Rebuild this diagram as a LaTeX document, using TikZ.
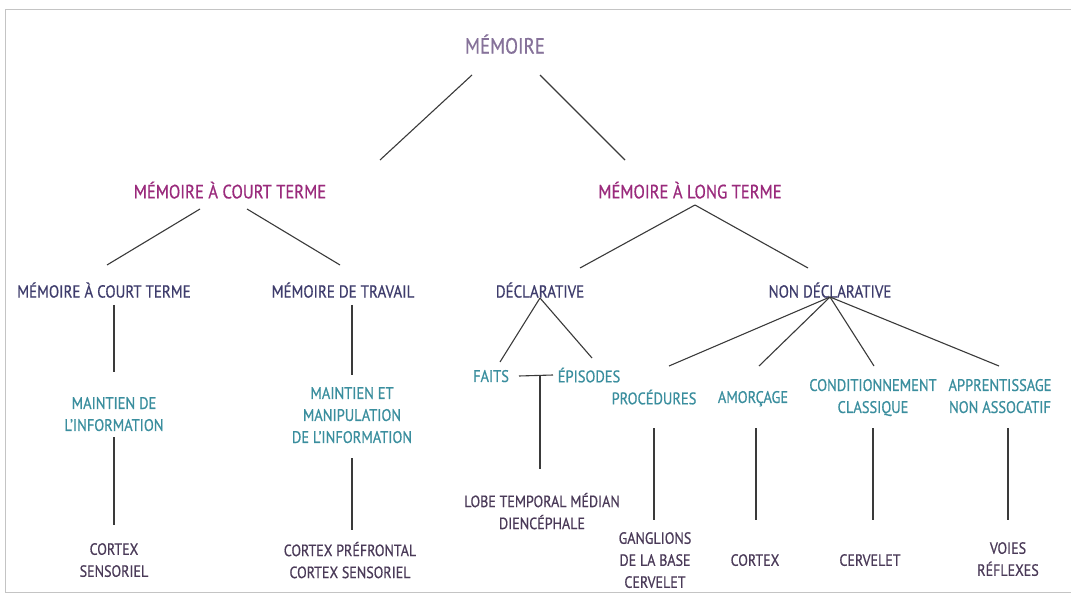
\documentclass[tikz,border=0pt]{standalone}
\usepackage{fontspec}
\setmainfont{PT Sans}[FakeStretch=0.86,FakeBold=0.6]
\usetikzlibrary{calc}
\definecolor{cTop}{HTML}{86729A}
\definecolor{cMag}{HTML}{9A2A7C}
\definecolor{cNavy}{HTML}{3E3C6C}
\definecolor{cTeal}{HTML}{3A8E9E}
\definecolor{cBot}{HTML}{4A3A58}
\definecolor{cLine}{HTML}{3A3A3A}
\definecolor{cFrame}{HTML}{C4C4C4}
\tikzset{
  lbl/.style={inner sep=0pt, align=center, text depth=0pt},
  topl/.style={lbl, text=cTop, font=\fontsize{22}{24}\selectfont},
  lvltwo/.style={lbl, text=cMag, font=\fontsize{19.3}{22}\selectfont},
  lvlthree/.style={lbl, text=cNavy, font=\fontsize{17.4}{21.5}\selectfont},
  tealt/.style={lbl, text=cTeal, font=\fontsize{16.8}{22}\selectfont},
  bott/.style={lbl, text=cBot, font=\fontsize{16.3}{22}\selectfont},
  conn/.style={draw=cLine, line width=1.1pt},
  frame/.style={draw=cFrame, line width=1pt}
}
\begin{document}
\begin{tikzpicture}[x=1pt,y=-1pt]
\useasboundingbox (0,0) rectangle (1071,601);
\fill[white] (0,0) rectangle (1071,601);
% frame
\draw[frame] (1071,9.5) -- (5.5,9.5) -- (5.5,592.5) -- (1071,592.5);
% nodes
\node[topl] (mem) at (505,44) {MÉMOIRE};
\node[lvltwo] (mct) at (230,190) {MÉMOIRE À COURT TERME};
\node[lvltwo] (mlt) at (690,190) {MÉMOIRE À LONG TERME};
\node[lvlthree] (stm) at (104,290) {MÉMOIRE À COURT TERME};
\node[lvlthree] (wm) at (343,290) {MÉMOIRE DE TRAVAIL};
\node[lvlthree] (decl) at (540,290) {DÉCLARATIVE};
\node[lvlthree] (nond) at (830,290) {NON DÉCLARATIVE};
\node[tealt] (mai1) at (114,414) {MAINTIEN DE\\L’INFORMATION};
\node[tealt] (mai2) at (352,415) {MAINTIEN ET\\MANIPULATION\\DE L’INFORMATION};
\node[tealt] (faits) at (491,376) {FAITS};
\node[tealt] (epis) at (589,375) {ÉPISODES};
\node[tealt] (proc) at (654,397) {PROCÉDURES};
\node[tealt] (amor) at (753,397) {AMORÇAGE};
\node[tealt] (cond) at (873,396) {CONDITIONNEMENT\\CLASSIQUE};
\node[tealt] (appr) at (1000,396) {APPRENTISSAGE\\NON ASSOCATIF};
\node[bott] (cs) at (114,560) {CORTEX\\SENSORIEL};
\node[bott] (cps) at (350,560) {CORTEX PRÉFRONTAL\\CORTEX SENSORIEL};
\node[bott] (lobe) at (542,511) {LOBE TEMPORAL MÉDIAN\\DIENCÉPHALE};
\node[bott] (gang) at (655,560) {GANGLIONS\\DE LA BASE\\CERVELET};
\node[bott] (ctx) at (755,560) {CORTEX};
\node[bott] (cerv) at (870,560) {CERVELET};
\node[bott] (voies) at (1008,559) {VOIES\\RÉFLEXES};
\coordinate (fe) at ($(faits)!0.5!(epis)$);
% connectors
\draw[conn] ([shift={(-33,31)}]mem.center) -- ([shift={(150,-30)}]mct.center);
\draw[conn] ([shift={(35,31)}]mem.center) -- ([shift={(-65,-30)}]mlt.center);
\draw[conn] ([shift={(-30,19)}]mct.center) -- ([shift={(3,-25)}]stm.center);
\draw[conn] ([shift={(17,19)}]mct.center) -- ([shift={(-3,-25)}]wm.center);
\draw[conn] ([shift={(5,15)}]mlt.center) -- ([shift={(40,-22)}]decl.center);
\draw[conn] ([shift={(5,15)}]mlt.center) -- ([shift={(-22,-22)}]nond.center);
\draw[conn] ([shift={(10,15)}]stm.center) -- ([shift={(0,-42)}]mai1.center);
\draw[conn] ([shift={(0,23)}]mai1.center) -- ([shift={(0,-35)}]cs.center);
\draw[conn] ([shift={(9,15)}]wm.center) -- ([shift={(0,-40)}]mai2.center);
\draw[conn] ([shift={(0,43)}]mai2.center) -- ([shift={(2,-30)}]cps.center);
\draw[conn] ([shift={(0,8)}]decl.center) -- ([shift={(9,-14)}]faits.center);
\draw[conn] ([shift={(0,8)}]decl.center) -- ([shift={(3,-17)}]epis.center);
\draw[conn] ([shift={(28,0)}]faits.center) -- ([shift={(-36,0)}]epis.center);
\draw[conn] (fe) -- ([shift={(-2,-42)}]lobe.center);
\draw[conn] ([shift={(0,7)}]nond.center) -- ([shift={(15,-31)}]proc.center);
\draw[conn] ([shift={(0,7)}]nond.center) -- ([shift={(6,-31)}]amor.center);
\draw[conn] ([shift={(0,7)}]nond.center) -- ([shift={(1,-30)}]cond.center);
\draw[conn] ([shift={(0,7)}]nond.center) -- ([shift={(-1,-30)}]appr.center);
\draw[conn] ([shift={(0,31)}]proc.center) -- ([shift={(-1,-40)}]gang.center);
\draw[conn] ([shift={(3,31)}]amor.center) -- ([shift={(1,-40)}]ctx.center);
\draw[conn] ([shift={(0,32)}]cond.center) -- ([shift={(3,-40)}]cerv.center);
\draw[conn] ([shift={(8,32)}]appr.center) -- ([shift={(0,-39)}]voies.center);
\end{tikzpicture}
\end{document}
